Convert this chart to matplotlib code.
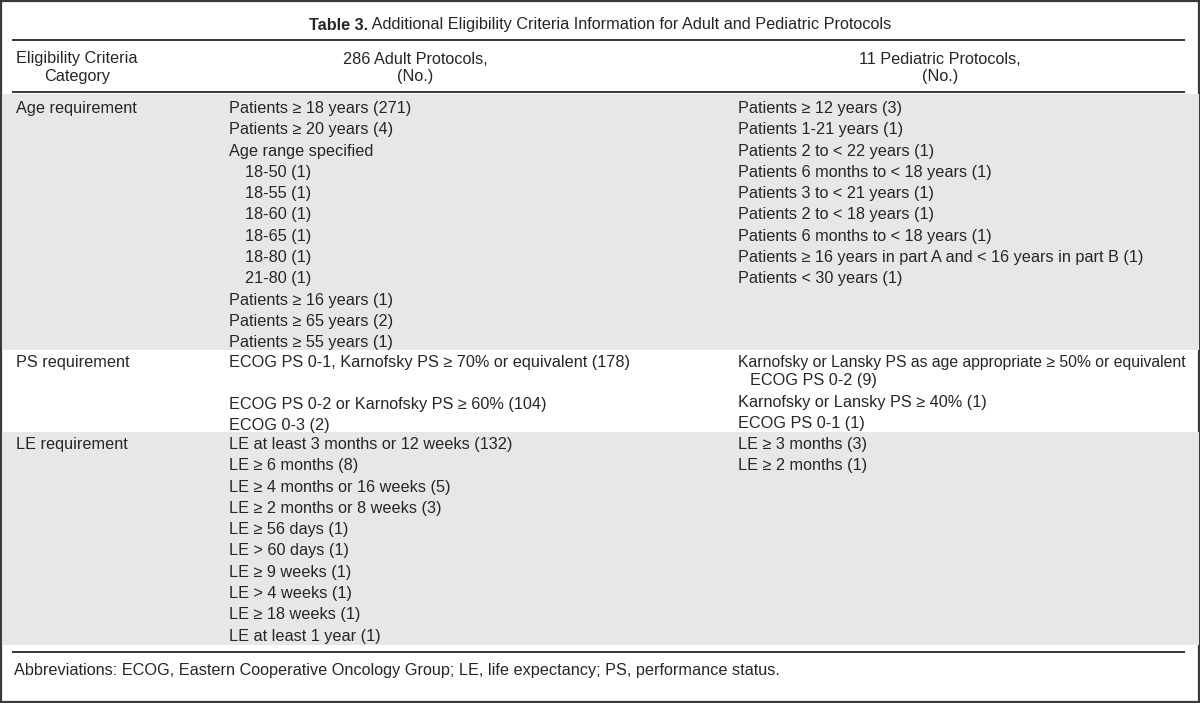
import matplotlib
matplotlib.use("Agg")
from matplotlib import pyplot as plt
from matplotlib.patches import Rectangle

plt.rcParams['font.family'] = ['Liberation Sans', 'DejaVu Sans']

# table content
title_bold = "Table 3."
title_rest = " Additional Eligibility Criteria Information for Adult and Pediatric Protocols"
headers = ["Eligibility Criteria\nCategory", "286 Adult Protocols,\n(No.)", "11 Pediatric Protocols,\n(No.)"]
categories = ["Age requirement", "PS requirement", "LE requirement"]

age_adult = ["Patients \u2265 18 years (271)", "Patients \u2265 20 years (4)", "Age range specified",
             "18-50 (1)", "18-55 (1)", "18-60 (1)", "18-65 (1)", "18-80 (1)", "21-80 (1)",
             "Patients \u2265 16 years (1)", "Patients \u2265 65 years (2)", "Patients \u2265 55 years (1)"]
age_adult_indent = [0, 0, 0, 1, 1, 1, 1, 1, 1, 0, 0, 0]
age_ped = ["Patients \u2265 12 years (3)", "Patients 1-21 years (1)", "Patients 2 to < 22 years (1)",
           "Patients 6 months to < 18 years (1)", "Patients 3 to < 21 years (1)",
           "Patients 2 to < 18 years (1)", "Patients 6 months to < 18 years (1)",
           "Patients \u2265 16 years in part A and < 16 years in part B (1)", "Patients < 30 years (1)"]

ps_adult = ["ECOG PS 0-1, Karnofsky PS \u2265 70% or equivalent (178)",
            "ECOG PS 0-2 or Karnofsky PS \u2265 60% (104)", "ECOG 0-3 (2)"]
ps_adult_slots = [2, 1, 1]
ps_ped = ["Karnofsky or Lansky PS as age appropriate \u2265 50% or equivalent\nECOG PS 0-2 (9)",
          "Karnofsky or Lansky PS \u2265 40% (1)", "ECOG PS 0-1 (1)"]
ps_ped_slots = [2, 1, 1]

le_adult = ["LE at least 3 months or 12 weeks (132)", "LE \u2265 6 months (8)",
            "LE \u2265 4 months or 16 weeks (5)", "LE \u2265 2 months or 8 weeks (3)",
            "LE \u2265 56 days (1)", "LE > 60 days (1)", "LE \u2265 9 weeks (1)",
            "LE > 4 weeks (1)", "LE \u2265 18 weeks (1)", "LE at least 1 year (1)"]
le_ped = ["LE \u2265 3 months (3)", "LE \u2265 2 months (1)"]

footnote = "Abbreviations: ECOG, Eastern Cooperative Oncology Group; LE, life expectancy; PS, performance status."

# layout (pixels)
W, H = 1200, 703
txt = '#262626'
shade = '#e6e7e6'
fs = 11.7
pitch = 21.3
wrap_pitch = 18
x_cat, x_adult, x_ped = 16, 229, 738
indent_adult, indent_ped = 16, 12
right_edge = 1186

fig = plt.figure(figsize=(W / 100, H / 100), dpi=100)
ax = fig.add_axes([0, 0, 1, 1])
ax.set_xlim(0, W)
ax.set_ylim(H, 0)
ax.axis('off')

# outer frame
ax.add_patch(Rectangle((1, 1), W - 2, H - 2, fill=False, edgecolor='#3a3a3a', linewidth=1.6))

# shaded bands
ax.add_patch(Rectangle((1.5, 94), W - 3, 256, facecolor=shade, edgecolor='none'))
ax.add_patch(Rectangle((1.5, 432), W - 3, 213, facecolor=shade, edgecolor='none'))

# rules
for y in [39.5, 92, 652]:
    ax.hlines(y, 12, 1185, color=txt, linewidth=1.3)

fig.canvas.draw()
r = fig.canvas.get_renderer()

# title
t1 = ax.text(0, 29.5, title_bold, weight='bold', fontsize=fs, color=txt, va='baseline')
t2 = ax.text(0, 29.5, title_rest, fontsize=fs, color=txt, va='baseline')
w1 = t1.get_window_extent(r).width
w2 = t2.get_window_extent(r).width
x0 = W / 2 - (w1 + w2) / 2
t1.set_x(x0)
t2.set_x(x0 + w1)

# header
for (h, xc) in zip(headers, [77, 415, 940]):
    for k, part in enumerate(h.split("\n")):
        ax.text(xc, 63.5 + k * 17, part, fontsize=fs, color=txt, ha='center', va='baseline')

def put(x, y, s):
    t = ax.text(x, y, s, fontsize=fs, color=txt, ha='left', va='baseline')
    w = t.get_window_extent(r).width
    if x + w > right_edge:  # squeeze lines that would run past the rule
        t.set_fontsize(fs * (right_edge - x) / w)

# age rows
y0 = 113
put(x_cat, y0, categories[0])
for i, (s, ind) in enumerate(zip(age_adult, age_adult_indent)):
    put(x_adult + ind * indent_adult, y0 + i * pitch, s)
for i, s in enumerate(age_ped):
    put(x_ped, y0 + i * pitch, s)

# PS rows
y0 = 366.5
put(x_cat, y0, categories[1])
y = y0
for s, n in zip(ps_adult, ps_adult_slots):
    put(x_adult, y, s)
    y += n * pitch
y = y0
for s, n in zip(ps_ped, ps_ped_slots):
    parts = s.split("\n")
    put(x_ped, y, parts[0])
    if len(parts) > 1:
        put(x_ped + indent_ped, y + wrap_pitch, parts[1])
        y += wrap_pitch + (pitch + 1)
    else:
        y += n * pitch

# LE rows
y0 = 449
put(x_cat, y0, categories[2])
for i, s in enumerate(le_adult):
    put(x_adult, y0 + i * pitch, s)
for i, s in enumerate(le_ped):
    put(x_ped, y0 + i * pitch, s)

# footnote
put(14, 675.5, footnote)

fig.savefig("out.png", dpi=100)
